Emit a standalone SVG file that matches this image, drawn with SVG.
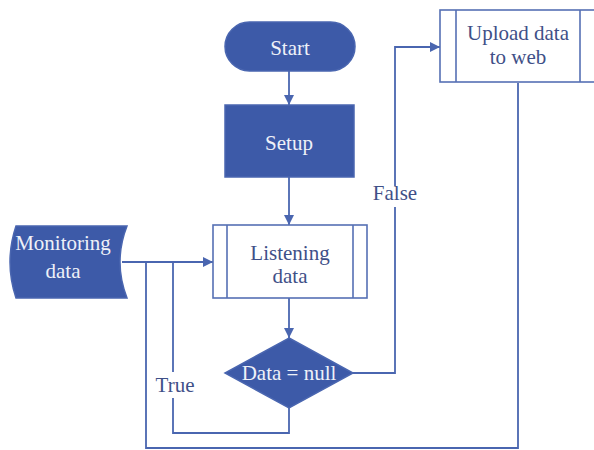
<svg xmlns="http://www.w3.org/2000/svg" width="594" height="450" viewBox="0 0 594 450">
<style>
.fill{fill:#3d5aa8;stroke:#4a66b0;stroke-width:1.5}
.box{fill:#fff;stroke:#5670b4;stroke-width:1.6}
.ln{fill:none;stroke:#4a66b0;stroke-width:1.8}
.tw{font-family:"Liberation Serif",serif;font-size:21px;fill:#eef1f8;text-anchor:middle}
.tb{font-family:"Liberation Serif",serif;font-size:21px;fill:#3f5088;text-anchor:middle}
</style>
<defs>
<marker id="ah" viewBox="0 0 10 10" refX="10" refY="5" markerWidth="10" markerHeight="10" markerUnits="userSpaceOnUse" orient="auto">
<path d="M0,0 L10,5 L0,10 Z" fill="#4a66b0"/>
</marker>
</defs>
<rect width="594" height="450" fill="#fff"/>
<g id="connectors">
<path class="ln" d="M289,71 V105" marker-end="url(#ah)"/>
<path class="ln" d="M289,177 V225" marker-end="url(#ah)"/>
<path class="ln" d="M289,298 V338" marker-end="url(#ah)"/>
<path class="ln" d="M122,262 H213" marker-end="url(#ah)"/>
<path class="ln" d="M353,373 H395 V207"/>
<path class="ln" d="M395,186 V47 H440" marker-end="url(#ah)"/>
<path class="ln" d="M289,408 V433 H173 V398"/>
<path class="ln" d="M173,372 V262"/>
<path class="ln" d="M518,83 V448 H146 V262"/>
<text class="tb" x="395" y="200">False</text>
<text class="tb" x="175" y="392">True</text>
</g>
<g id="start">
<rect class="fill" x="225" y="22" width="130" height="49" rx="24.5"/>
<text class="tw" x="290" y="55">Start</text>
</g>
<g id="setup">
<rect class="fill" x="225" y="105" width="129" height="72"/>
<text class="tw" x="289" y="150">Setup</text>
</g>
<g id="listening">
<rect class="box" x="213" y="225" width="154" height="73"/>
<path class="box" d="M227,225 V298 M353,225 V298"/>
<text class="tb" x="290" y="260">Listening</text>
<text class="tb" x="290" y="283">data</text>
</g>
<g id="decision">
<path class="fill" d="M289,338 L353,373 L289,408 L225,373 Z"/>
<text class="tw" x="289" y="380">Data = null</text>
</g>
<g id="upload">
<rect class="box" x="440" y="10" width="157" height="72"/>
<path class="box" d="M456,10 V82 M580,10 V82"/>
<text class="tb" x="518" y="40">Upload data</text>
<text class="tb" x="518" y="64">to web</text>
</g>
<g id="monitoring">
<path class="fill" d="M16,226 H127 Q113,262 127,298 H16 Q4,262 16,226 Z"/>
<text class="tw" x="63" y="250">Monitoring</text>
<text class="tw" x="63" y="278">data</text>
</g>
</svg>
